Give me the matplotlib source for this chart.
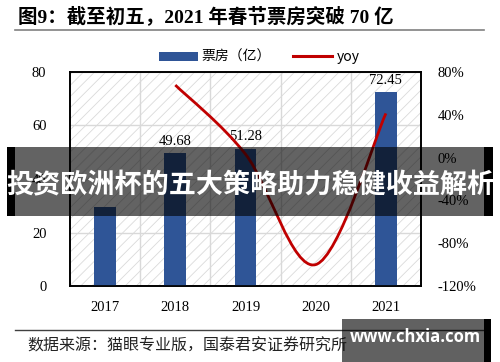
import matplotlib
matplotlib.use('Agg')
import matplotlib.pyplot as plt
from matplotlib.patches import Rectangle, Patch
from matplotlib.lines import Line2D
from matplotlib.path import Path
from matplotlib.patches import PathPatch

# data
years = ['2017', '2018', '2019', '2020', '2021']
box_office = [29.6, 49.68, 51.28, 0.0, 72.45]
bar_labels = ['', '49.68', '51.28', '', '72.45']
yoy_years = [1, 2, 3, 4]          # index into years, 2018..2021
yoy = [67.8, 3.2, -100.0, 41.3]

W, H = 500, 362
BLUE = '#2F5597'
RED = '#C00000'
SERIF = ['Liberation Serif', 'Noto Sans CJK SC']
CJK = ['Noto Sans CJK SC', 'DejaVu Sans']

plt.rcParams['hatch.linewidth'] = 0.6
plt.rcParams['hatch.color'] = '#DADADA'


def fx(x):
    return x / W


def fy(y):
    return 1 - y / H


fig = plt.figure(figsize=(W / 100, H / 100), dpi=100)
ax = fig.add_axes([fx(70), fy(286), fx(421) - fx(70), fy(72) - fy(286)])
ax2 = ax.twinx()

# hatched background
ax.add_patch(Rectangle((0, 0), 1, 1, transform=ax.transAxes, facecolor='white',
                       hatch='///', edgecolor='#DADADA', linewidth=0, zorder=0))

x = list(range(len(years)))
bars = ax.bar(x, box_office, width=0.31, color=BLUE, zorder=3)
ax.bar_label(bars, labels=bar_labels, padding=4, fontsize=10.5, family=SERIF)

ax.set_xlim(-0.5, len(years) - 0.5)
ax.set_ylim(0, 80)
ax.set_yticks([0, 20, 40, 60, 80])
ax.set_xticks(x)
ax.set_xticklabels(years)
ax.set_xticks([0.5, 1.5, 2.5, 3.5], minor=True)
ax.grid(True, axis='y', color='#D9D9D9', linewidth=1.0, zorder=1)
ax.grid(True, axis='x', which='minor', color='#D9D9D9', linewidth=1.0, zorder=1)
ax.grid(False, axis='x', which='major')
ax.tick_params(axis='both', which='both', length=0, labelsize=10.5)
ax.tick_params(axis='y', pad=17)
ax.tick_params(axis='x', pad=11)
for lab in ax.get_xticklabels() + ax.get_yticklabels():
    lab.set_family(SERIF)
ax.set_axisbelow(True)

# smoothed yoy line (cubic bezier through the points, like a spreadsheet "smooth line")
pts = list(zip(yoy_years, yoy))
verts = [pts[0]]
codes = [Path.MOVETO]
n = len(pts)
for i in range(n - 1):
    p0 = pts[max(i - 1, 0)]
    p1 = pts[i]
    p2 = pts[i + 1]
    p3 = pts[min(i + 2, n - 1)]
    c1 = (p1[0] + (p2[0] - p0[0]) / 6, p1[1] + (p2[1] - p0[1]) / 6)
    c2 = (p2[0] - (p3[0] - p1[0]) / 6, p2[1] - (p3[1] - p1[1]) / 6)
    verts += [c1, c2, p2]
    codes += [Path.CURVE4] * 3
ax2.add_patch(PathPatch(Path(verts, codes), facecolor='none', edgecolor=RED,
                        linewidth=2.0, capstyle='butt', zorder=4))
ax2.set_ylim(-120, 80)
ax2.set_yticks([-120, -80, -40, 0, 40, 80])
ax2.set_yticklabels(['-120%', '-80%', '-40%', '0%', '40%', '80%'])
ax2.tick_params(axis='y', length=0, pad=12, labelsize=10.5)
for lab in ax2.get_yticklabels():
    lab.set_family(SERIF)

for a in (ax, ax2):
    for s in a.spines.values():
        s.set_color('black')
        s.set_linewidth(1.2)

# legend
handles = [Patch(facecolor=BLUE, edgecolor='none'),
           Line2D([], [], color=RED, linewidth=2.2)]
fig.legend(handles, ['票房（亿）', 'yoy'], loc='center', ncol=2,
           bbox_to_anchor=(fx(259), fy(57)), frameon=False,
           prop={'family': CJK, 'size': 10}, handlelength=2.8, handleheight=0.6,
           handletextpad=0.3, columnspacing=1.6)

# title and rule
fig.text(fx(18), fy(16), '图9：截至初五，2021 年春节票房突破 70 亿', fontsize=14,
         fontweight='bold', family=SERIF, va='center', ha='left')
fig.add_artist(Line2D([fx(15), fx(484)], [fy(30), fy(30)], color='#808080', linewidth=1.2))

# footer
fig.add_artist(Line2D([fx(15), fx(484)], [fy(330), fy(330)], color='#404040', linewidth=1.0))
fig.text(fx(27), fy(346), '数据来源：猫眼专业版，国泰君安证券研究所', fontsize=11.5,
         family=CJK, va='center', ha='left', color='#222222')

# overlay banner
fig.add_artist(Rectangle((fx(7), fy(216)), fx(486), fy(147) - fy(216),
                         transform=fig.transFigure, facecolor='black', alpha=0.61,
                         linewidth=0, zorder=10))
for x0, x1 in [(7, 15), (484, 493)]:
    fig.add_artist(Rectangle((fx(x0), fy(216)), fx(x1 - x0), fy(147) - fy(216),
                             transform=fig.transFigure, facecolor='black',
                             linewidth=0, zorder=10))
fig.text(fx(250), fy(185), '投资欧洲杯的五大策略助力稳健收益解析', fontsize=19.5,
         fontweight='bold', family=CJK, color='white', ha='center', va='center',
         zorder=11)

# watermark box
fig.add_artist(Rectangle((fx(342), 0), fx(142), fy(319), transform=fig.transFigure,
                         facecolor='black', alpha=0.62, linewidth=0, zorder=10))
fig.add_artist(Rectangle((fx(484), 0), fx(7), fy(319), transform=fig.transFigure,
                         facecolor='black', linewidth=0, zorder=10))
fig.text(fx(415), fy(337), 'www.chxia.com', fontsize=12, fontweight='bold',
         family=['Open Sans', 'DejaVu Sans'], color='white', ha='center', va='center',
         zorder=11)

fig.savefig('out.png', dpi=100)
